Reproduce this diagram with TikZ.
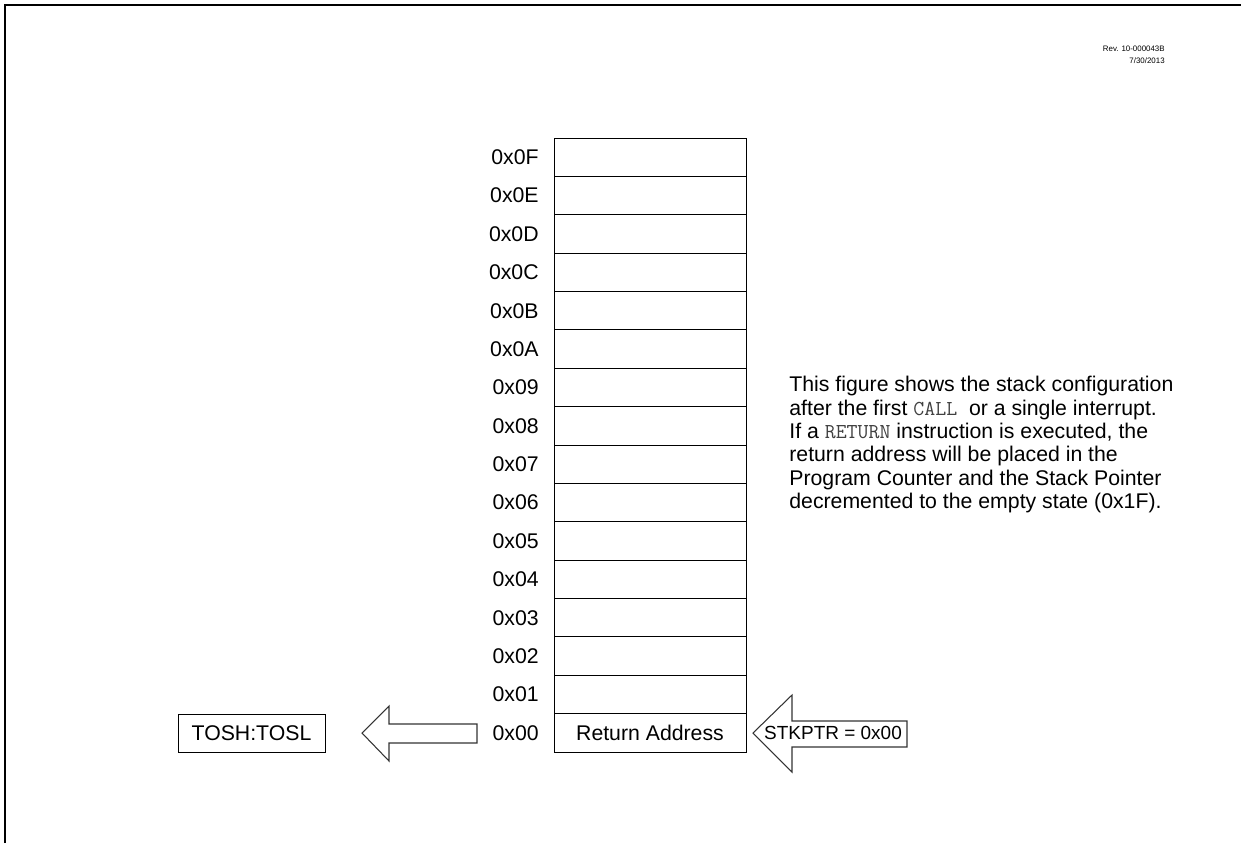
\documentclass[tikz,border=0pt]{standalone}
\usepackage{fontspec}
\setmainfont{Liberation Sans}
\begin{document}
\begin{tikzpicture}[x=0.02cm,y=-0.02cm,>=stealth,
  cell/.style={draw,line width=0.5pt,minimum width=3.84cm,minimum height=0.7675cm,inner sep=0pt},
  addr/.style={anchor=east,inner sep=0pt},
  blockarrow/.style={draw=black!80,line width=0.6pt,fill=white}]
  \useasboundingbox (0,0) rectangle (1241,843);
  \fontsize{12.1}{13.3}\selectfont
  \draw[line width=1.4pt] (5,843) -- (5,5) -- (1241,5);
  \node[anchor=north east,align=right,inner sep=0pt,font=\fontsize{4.5}{6.5}\selectfont] (rev) at (1165,46) {Rev. 10-000043B\\7/30/2013};
  % stack levels, top of stack first
  \foreach \i/\lab in {0/0F,1/0E,2/0D,3/0C,4/0B,5/0A,6/09,7/08,8/07,9/06,10/05,11/04,12/03,13/02,14/01,15/00} {
    \node[cell] (c\lab) at (650,157.2+38.375*\i) {};
    \node[addr] (a\lab) at (539,157.2+38.375*\i) {0x\lab};
  }
  \node at (c00) {Return Address};
  \node[draw,line width=0.5pt,minimum width=2.94cm,minimum height=0.76cm,inner sep=0pt] (tos) at (251.5,733) {TOSH:TOSL};
  \draw[blockarrow] (362,733) -- (389,706) -- (389,724) -- (477,724) -- (477,743) -- (389,743) -- (389,761) -- cycle;
  \draw[blockarrow] (753,733) -- (792,695) -- (792,721) -- (907,721) -- (907,747) -- (792,747) -- (792,772) -- cycle;
  \node[font=\fontsize{10.8}{13}\selectfont] (sp) at (833,733) {STKPTR = 0x00};
  \node[anchor=north west,align=left,inner sep=0pt] (note) at (789,376) {This figure shows the stack configuration\\
    after the first {\color{black!75}\texttt{CALL}}\ \ or a single interrupt.\\
    If a {\color{black!75}\texttt{RETURN}} instruction is executed, the\\
    return address will be placed in the\\
    Program Counter and the Stack Pointer\\
    decremented to the empty state (0x1F).};
\end{tikzpicture}
\end{document}
